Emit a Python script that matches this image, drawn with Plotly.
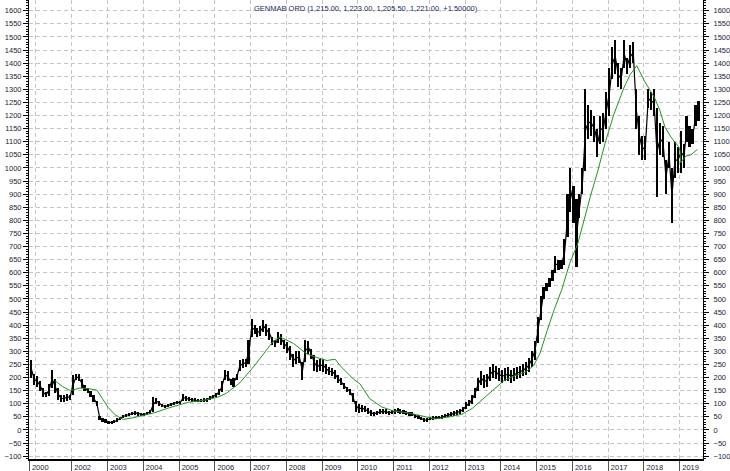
import pandas as pd
import plotly.graph_objects as go

# Monthly price ranges (low / high), Nov 2000 .. Jul 2019
bar_low = [
    200, 170,
    165, 150, 125, 125, 130, 160, 140, 115, 105, 108, 112, 115,
    135, 190, 185, 160, 150, 140, 125, 105, 90, 38, 30, 26,
    24, 23, 25, 32, 38, 45, 50, 52, 56, 58, 55, 52,
    52, 56, 62, 70, 100, 92, 86, 82, 88, 92, 96, 100,
    98, 110, 112, 110, 108, 106, 105, 105, 107, 108, 115, 120,
    125, 135, 145, 190, 185, 170, 165, 190, 225, 235, 240, 250,
    355, 365, 355, 360, 375, 360, 345, 325, 318, 330, 325, 310,
    295, 265, 240, 250, 255, 190, 260, 290, 270, 225, 220, 225,
    222, 215, 208, 205, 195, 180, 170, 155, 145, 135, 105, 70,
    65, 70, 68, 62, 55, 55, 58, 60, 62, 60, 58, 60,
    62, 65, 62, 60, 58, 55, 52, 45, 42, 36, 30, 32,
    36, 38, 40, 40, 42, 45, 48, 52, 55, 58, 62, 70,
    80, 90, 100, 120, 150, 170, 160, 165, 185, 200, 195, 185,
    180, 185, 185, 180, 185, 195, 200, 205, 210, 220, 240, 265,
    330, 420, 500, 530, 545, 570, 600, 610, 615, 630, 735, 830,
    790, 620, 810, 900, 990, 1110, 1120, 1100, 1040, 1090, 1100, 1150,
    1200, 1340, 1360, 1310, 1300, 1380, 1360, 1380, 1400, 1150, 1050, 1030,
    1030, 1230, 1220, 1200, 890, 1050, 1040, 900, 1000, 790, 960, 980,
    980, 1000, 1100, 1080, 1090, 1160, 1180,
]
bar_high = [
    265, 215,
    205, 185, 160, 145, 175, 228, 195, 160, 135, 132, 138, 135,
    210, 215, 212, 195, 170, 160, 150, 135, 112, 52, 45, 40,
    35, 33, 38, 46, 50, 58, 62, 66, 70, 72, 70, 66,
    66, 70, 76, 125, 120, 112, 100, 96, 100, 104, 108, 112,
    112, 138, 128, 124, 122, 120, 118, 117, 120, 120, 130, 135,
    142, 155, 185, 228, 225, 195, 200, 215, 265, 270, 272, 345,
    425, 400, 390, 395, 418, 405, 390, 355, 345, 372, 365, 345,
    335, 320, 290, 300, 300, 260, 345, 340, 310, 285, 265, 270,
    270, 250, 240, 238, 230, 210, 198, 180, 165, 158, 140, 110,
    100, 95, 90, 82, 75, 70, 72, 78, 80, 78, 74, 76,
    80, 82, 78, 76, 72, 70, 68, 62, 56, 50, 44, 46,
    50, 52, 55, 52, 56, 60, 64, 68, 72, 76, 80, 88,
    105, 115, 135, 160, 200, 225, 210, 215, 240, 250, 245, 235,
    230, 235, 240, 230, 235, 240, 245, 250, 260, 275, 300, 340,
    430, 510, 545, 560, 580, 610, 665, 650, 650, 730, 900, 1000,
    930, 880, 900, 1000, 1300, 1240, 1220, 1200, 1150, 1200, 1210, 1290,
    1380, 1460, 1490, 1400, 1380, 1490, 1420, 1470, 1480, 1300, 1200, 1120,
    1120, 1300, 1290, 1300, 1230, 1170, 1160, 1030, 1100, 1000, 1100, 1080,
    1140, 1090, 1200, 1160, 1150, 1240, 1255,
]

# Green moving average
ma_dates = [
    "2001-07-15", "2001-10-01", "2001-12-20", "2002-03-25", "2002-06-15", "2002-09-15",
    "2002-11-10", "2003-01-10", "2003-03-20", "2003-06-10", "2003-09-15", "2004-01-01",
    "2004-05-01", "2004-09-01", "2005-01-01", "2005-04-01", "2005-10-10", "2006-02-01",
    "2006-05-01", "2006-09-15", "2007-01-30", "2007-05-30", "2007-08-15", "2007-10-30",
    "2008-03-15", "2008-07-30", "2008-10-10", "2009-02-20", "2009-05-15", "2009-07-05",
    "2009-11-15", "2010-01-25", "2010-05-01", "2010-09-01", "2011-01-01", "2011-06-01",
    "2011-11-01", "2012-03-01", "2012-08-01", "2012-12-01", "2013-03-15", "2013-07-01",
    "2013-10-15", "2014-02-01", "2014-05-25", "2014-09-15", "2014-12-01", "2015-02-05",
    "2015-04-20", "2015-07-01", "2015-09-15", "2015-12-05", "2016-02-25", "2016-05-20",
    "2016-07-10", "2016-09-15", "2016-12-05", "2017-03-01", "2017-06-10", "2017-08-15",
    "2017-10-20", "2018-01-10", "2018-04-20", "2018-06-15", "2018-08-05", "2018-10-10",
    "2018-12-20", "2019-01-05", "2019-01-12", "2019-03-05", "2019-04-25", "2019-07-01",
]
ma_values = [
    188, 165, 150, 160, 158, 152,
    120, 85, 58, 40, 46, 55,
    66, 82, 95, 105, 115, 125,
    140, 180, 240, 300, 335, 355,
    330, 290, 280, 265, 270, 245,
    195, 175, 120, 88, 72, 65,
    52, 42, 50, 60, 82, 118,
    155, 188, 207, 222, 245, 292,
    380, 460, 535, 635, 710, 835,
    900, 985, 1100, 1205, 1305, 1357,
    1390, 1330, 1268, 1218, 1155, 1115,
    1082, 1065, 1020, 1045, 1050, 1070,
]

year_ticks = ["2000-10-25"] + [f"{y}-01-01" for y in range(2002, 2020)]
year_labels = ["2000"] + [str(y) for y in range(2002, 2020)]
grid_years = [f"{y}-01-01" for y in range(2001, 2020)]

title_text = "GENMAB ORD (1,215.00, 1,223.00, 1,205.50, 1,221.00, +1.50000)"

months = pd.date_range("2000-11-01", periods=len(bar_low), freq="MS") + pd.Timedelta(days=14)
mid = [(h + l) / 2 for h, l in zip(bar_high, bar_low)]

FONT = "Liberation Sans, Arial, sans-serif"
TXT = "#222233"
GRID = "#c4c4c4"
YR = [-111, 1641]

fig = go.Figure()
fig.add_trace(go.Scatter(
    x=months, y=mid, mode="lines", line=dict(color="black", width=1.2),
    showlegend=False, hoverinfo="skip",
))
fig.add_trace(go.Bar(
    x=months, y=[h - l for h, l in zip(bar_high, bar_low)], base=bar_low,
    width=17 * 86400000, marker=dict(color="black", line=dict(width=0)),
    showlegend=False, hoverinfo="skip",
))
fig.add_trace(go.Scatter(
    x=pd.to_datetime(ma_dates), y=ma_values, mode="lines",
    line=dict(color="#1f961f", width=1), showlegend=False, yaxis="y2",
))

fig.update_layout(
    width=730, height=471,
    margin=dict(l=29, r=27, t=0, b=12),
    paper_bgcolor="white", plot_bgcolor="white",
    font=dict(family=FONT, size=7.5, color=TXT),
    bargap=0,
    xaxis=dict(
        type="date", range=["2000-10-22", "2019-08-28"],
        tickvals=year_ticks, ticktext=year_labels,
        ticks="outside", ticklen=12, tickcolor="#555555", tickwidth=1,
        ticklabelshift=11, ticklabelstandoff=-12,
        showgrid=False,
        minor=dict(tickvals=grid_years, showgrid=True, gridcolor=GRID,
                   griddash="4px,3px", gridwidth=1, ticks=""),
        showline=True, linecolor="black", linewidth=1.5,
        zeroline=False, fixedrange=True,
    ),
    yaxis=dict(
        range=YR, tick0=0, dtick=50, side="left",
        ticks="outside", ticklen=5, tickcolor="black",
        showgrid=True, gridcolor=GRID, griddash="4px,3px", gridwidth=1,
        minor=dict(dtick=10, ticks="outside", ticklen=2, tickcolor="black", showgrid=False),
        showline=True, linecolor="black", linewidth=1,
        zeroline=False,
    ),
    yaxis2=dict(
        range=YR, tick0=0, dtick=50, side="right", overlaying="y",
        ticks="outside", ticklen=5, tickcolor="black",
        ticklabelstandoff=3,
        showgrid=False,
        minor=dict(dtick=10, ticks="outside", ticklen=2, tickcolor="black", showgrid=False),
        showline=True, linecolor="black", linewidth=1,
        zeroline=False,
    ),
    annotations=[dict(
        text=title_text, x=0.5, y=1 - 8 / 459, xref="paper", yref="paper",
        xanchor="center", yanchor="middle", showarrow=False,
        font=dict(family=FONT, size=7.5, color="#1c2a66"),
    )],
)

fig.write_html("out.html")
